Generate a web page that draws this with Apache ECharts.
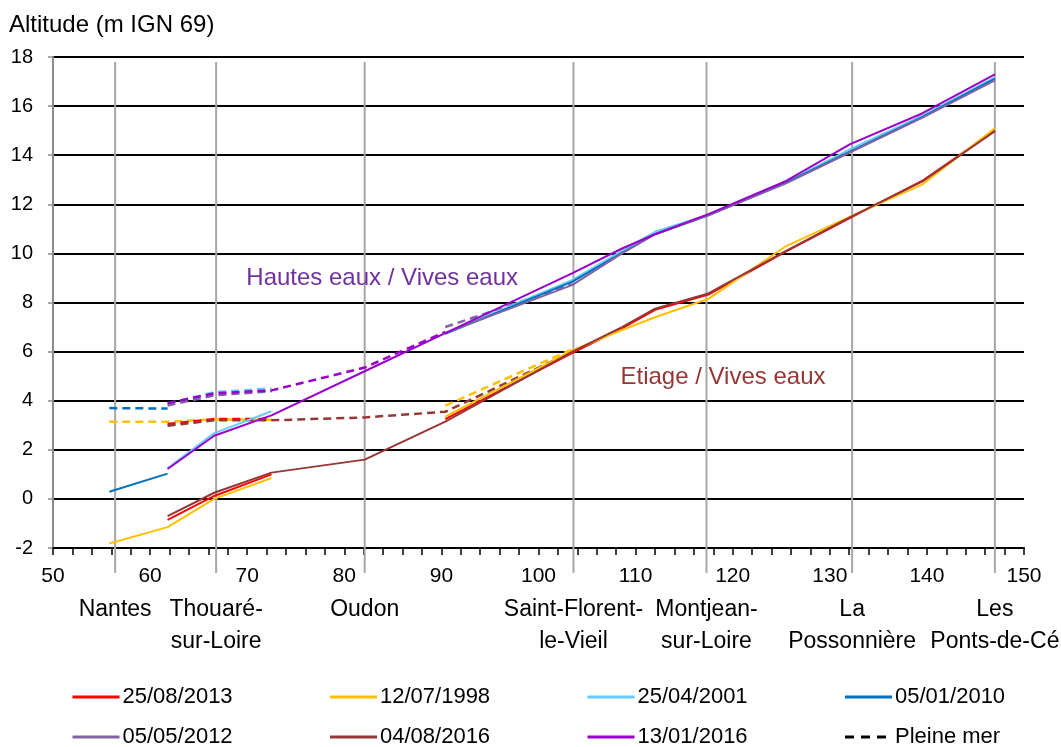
<!DOCTYPE html>
<html>
<head>
<meta charset="utf-8">
<script src="https://cdn.jsdelivr.net/npm/echarts@6/dist/echarts.min.js"></script>
<style>html,body{margin:0;padding:0;background:#fff;}#c{width:1061px;height:747px;}</style>
</head>
<body>
<div id="c"></div>
<script>
// ---- data ----
const X = [55.8, 61.8, 66.6, 72.5, 82.1, 90.4, 103.5, 108.6, 112.0, 117.5, 125.5, 132.1, 139.5, 147.0];

const D_20130825 = [null, -0.85, 0.12, 1.0, null, 3.25, 5.95, 6.95, 7.7, 8.32, 10.08, 11.45, 12.95, 15.0];
const D_19980712 = [-1.82, -1.15, 0.0, 0.85, null, 3.35, 6.05, 6.88, 7.4, 8.15, 10.3, 11.5, 12.8, 15.1];
const D_20010425 = [null, 1.25, 2.68, 3.57, null, 6.75, 8.92, 10.1, 10.88, 11.58, 12.9, 14.25, 15.6, 17.17];
const D_20100105 = [0.29, 1.03, null, null, null, 6.72, 8.85, 10.02, 10.78, 11.55, 12.88, 14.15, 15.55, 17.12];
const D_20120505 = [null, null, null, null, null, 6.75, 8.72, 10.0, 10.78, 11.55, 12.85, 14.12, 15.52, 17.05];
const D_20160804 = [null, -0.7, 0.25, 1.07, 1.6, 3.15, 6.0, 7.0, 7.75, 8.37, 10.1, 11.48, 12.92, 14.98];
const D_20160113 = [null, 1.22, 2.57, 3.4, 5.2, 6.75, 9.2, 10.2, 10.78, 11.6, 12.95, 14.45, 15.7, 17.29];

// Pleine mer (high tide) dashed
const PM_20130825 = [null, 3.05, 3.25, 3.25, null, null, null, null, null, null, null, null, null, null];
const PM_19980712 = [3.14, 3.14, 3.24, 3.22, null, 3.8, 6.1, null, null, null, null, null, null, null];
const PM_20010425 = [null, 3.88, 4.35, 4.5, null, null, null, null, null, null, null, null, null, null];
const PM_20100105 = [3.7, 3.68, null, null, null, null, null, null, null, null, null, null, null, null];
const PM_20120505 = [null, 3.8, 4.22, 4.38, null, 7.0, 8.75, null, null, null, null, null, null, null];
const PM_20160804 = [null, 2.98, 3.2, 3.2, 3.32, 3.55, 6.0, null, null, null, null, null, null, null];
const PM_20160113 = [null, 3.9, 4.3, 4.42, 5.35, 6.8, null, null, null, null, null, null, null, null];

const TOWNS = ['Nantes', 'Thouaré-\nsur-Loire', 'Oudon', 'Saint-Florent-\nle-Vieil', 'Montjean-\nsur-Loire', 'La\nPossonnière', 'Les\nPonts-de-Cé'];
const TOWN_X = [56.4, 66.8, 82.1, 103.6, 117.3, 132.3, 147.0];

const LEGEND_NAMES = ['25/08/2013', '12/07/1998', '25/04/2001', '05/01/2010', '05/05/2012', '04/08/2016', '13/01/2016', 'Pleine mer'];

// ---- styling ----
const FONT = "'Liberation Sans', Arial, sans-serif";
const COLORS = {
  '25/08/2013': '#FF0000',
  '12/07/1998': '#FFC000',
  '25/04/2001': '#66CCFF',
  '05/01/2010': '#0070C0',
  '05/05/2012': '#8064A2',
  '04/08/2016': '#953735',
  '13/01/2016': '#9900CC'
};

function pairs(vals) { return X.map((x, i) => [x, vals[i] === null ? null : vals[i]]); }
function solid(name, vals, extra) {
  return Object.assign({
    name: name, type: 'line', data: pairs(vals), symbol: 'none', z: 4,
    lineStyle: { color: COLORS[name], width: 2 }, itemStyle: { color: COLORS[name] },
    emphasis: { disabled: true }
  }, extra || {});
}
function dashed(name, vals) {
  return {
    name: 'PM ' + name, type: 'line', data: pairs(vals), symbol: 'none', z: 3,
    lineStyle: { color: COLORS[name], width: 2.5, type: [8, 5] }, itemStyle: { color: COLORS[name] },
    emphasis: { disabled: true }
  };
}

const townLines = TOWN_X.map(x => ({
  type: 'line', data: [[x, -3.02], [x, 17.8]], symbol: 'none', clip: false, silent: true, z: 2,
  lineStyle: { color: '#A6A6A6', width: 2 }, emphasis: { disabled: true }
}));

const townLabels = {
  type: 'scatter', clip: false, silent: true, symbolSize: 0, z: 5,
  itemStyle: { color: '#000', opacity: 1 },
  data: TOWN_X.map((x, i) => ({ value: [x, -3.84], name: TOWNS[i] })),
  label: { show: true, position: 'bottom', distance: 0, formatter: p => p.name, opacity: 1,
    fontFamily: FONT, fontSize: 23, lineHeight: 32, color: '#000', align: 'center' },
  emphasis: { disabled: true }
};

const series = [
  dashed('05/01/2010', PM_20100105),
  dashed('12/07/1998', PM_19980712),
  dashed('25/04/2001', PM_20010425),
  dashed('05/05/2012', PM_20120505),
  dashed('25/08/2013', PM_20130825),
  dashed('04/08/2016', PM_20160804),
  dashed('13/01/2016', PM_20160113),
  solid('25/08/2013', D_20130825),
  solid('12/07/1998', D_19980712),
  solid('25/04/2001', D_20010425),
  solid('05/01/2010', D_20100105),
  solid('05/05/2012', D_20120505),
  solid('04/08/2016', D_20160804, {
    markPoint: { symbolSize: 0, silent: true, data: [{ coord: [119.0, 4.94], value: 'Etiage / Vives eaux' }],
      label: { show: true, position: 'inside', formatter: 'Etiage / Vives eaux', color: '#953735', fontFamily: FONT, fontSize: 24 } }
  }),
  solid('13/01/2016', D_20160113, {
    markPoint: { symbolSize: 0, silent: true, data: [{ coord: [83.9, 8.98], value: 'Hautes eaux / Vives eaux' }],
      label: { show: true, position: 'inside', formatter: 'Hautes eaux / Vives eaux', color: '#7030A0', fontFamily: FONT, fontSize: 24 } }
  }),
  { name: 'Pleine mer', type: 'line', data: [], symbol: 'none',
    lineStyle: { color: '#000', width: 3, type: [9, 7] }, itemStyle: { color: '#000' } }
].concat(townLines, [townLabels]);

const chart = echarts.init(document.getElementById('c'), null, { renderer: 'canvas' });
chart.setOption({
  animation: false,
  backgroundColor: '#fff',
  title: { text: 'Altitude (m IGN 69)', left: 4, top: 8,
    textStyle: { fontFamily: FONT, fontSize: 24, fontWeight: 'normal', color: '#000' } },
  grid: { left: 53, right: 37, top: 57, bottom: 199, containLabel: false },
  xAxis: {
    type: 'value', min: 50, max: 150, interval: 10,
    axisLine: { show: true, onZero: false, lineStyle: { color: '#000', width: 2 } },
    axisTick: { show: true, length: 7, lineStyle: { color: '#000', width: 1.5 } },
    minorTick: { show: true, splitNumber: 5, length: 7, lineStyle: { color: '#000', width: 1.5 } },
    splitLine: { show: false },
    axisLabel: { color: '#000', fontFamily: FONT, fontSize: 21, margin: 18 }
  },
  yAxis: {
    type: 'value', min: -2, max: 18, interval: 2,
    axisLine: { show: true, lineStyle: { color: '#8C8C8C', width: 2 } },
    axisTick: { show: true, length: 5, lineStyle: { color: '#8C8C8C', width: 1.5 } },
    splitLine: { show: true, lineStyle: { color: '#000', width: 2 } },
    axisLabel: { color: '#000', fontFamily: FONT, fontSize: 20, margin: 20 }
  },
  legend: {
    data: LEGEND_NAMES, left: 71, top: 677, width: 1040, orient: 'horizontal', padding: 0,
    itemWidth: 47, itemHeight: 14, itemGap: 0, selectedMode: false,
    lineStyle: { width: 3 },
    itemStyle: { opacity: 0 },
    textStyle: { fontFamily: FONT, fontSize: 22, color: '#000', width: 206, lineHeight: 40, padding: [0, 0, 0, -2] }
  },
  series: series
});
</script>
</body>
</html>
